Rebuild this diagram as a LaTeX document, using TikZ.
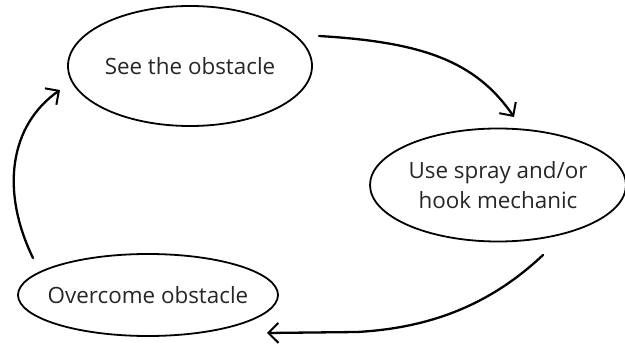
\documentclass[tikz,border=0pt]{standalone}
\usepackage{fontspec}
\setmainfont{Open Sans}
\usetikzlibrary{arrows.meta,shapes.geometric}
\begin{document}
\begin{tikzpicture}[x=1pt,y=-1pt,
  stage/.style={draw=black,line width=1.8pt,ellipse,inner xsep=-60pt,inner ysep=-20pt,font=\fontsize{22.4}{30}\selectfont,align=center,text=black!85},
  flow/.style={draw=black,line width=2.3pt,line cap=round,-{Straight Barb[length=10pt,width=20pt,line width=2pt]}}]
\useasboundingbox (0,0) rectangle (625,345);
\node[stage,minimum width=244pt,minimum height=120pt] (see) at (190,66) {See the obstacle};
\node[stage,minimum width=256pt,minimum height=113pt] (use) at (498,185) {Use spray and/or\\hook mechanic};
\node[stage,minimum width=260pt,minimum height=82pt] (over) at (148,295) {Overcome obstacle};
\coordinate (s1) at (319,36);
\coordinate (e1) at (514,117);
\coordinate (s2) at (543,255);
\coordinate (m2) at (357,332);
\coordinate (e2) at (267,333);
\coordinate (s3) at (33,258);
\coordinate (e3) at (60,90);
\draw[flow] (s1) .. controls (420,42) and (475,60) .. (e1);
\draw[flow] (s2) .. controls (490,305) and (430,328) .. (m2) -- (e2);
\draw[flow] (s3) .. controls (0,190) and (10,125) .. (e3);
\end{tikzpicture}
\end{document}
